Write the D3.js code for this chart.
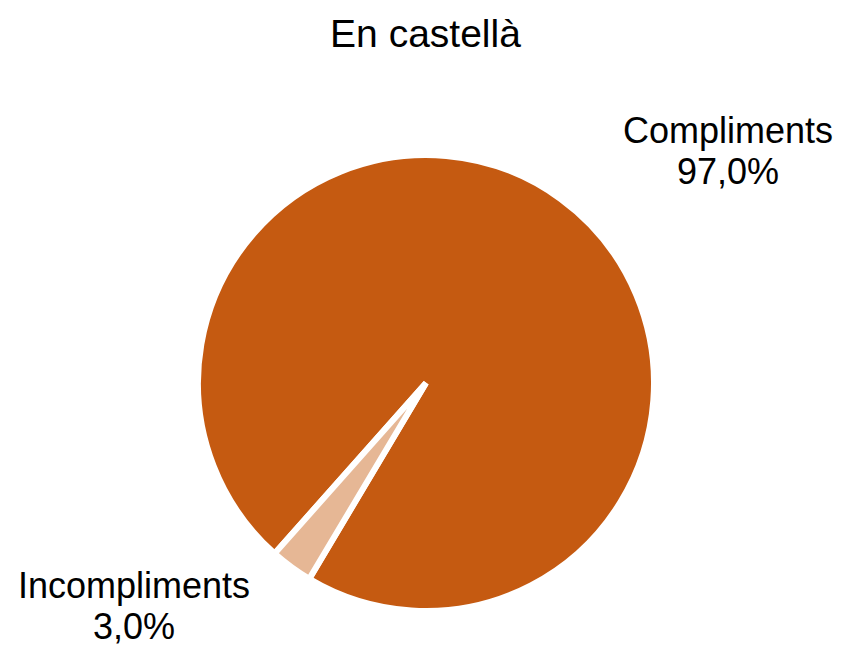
<!DOCTYPE html>
<html>
<head>
<meta charset="utf-8">
<script src="https://cdn.jsdelivr.net/npm/d3@7"></script>
<style>
  body { margin: 0; background: #fff; }
  text { font-family: "Liberation Sans", Arial, sans-serif; fill: #000; }
</style>
</head>
<body>
<div id="chart"></div>
<script>
const title = 'En castellà';
const categories = ['Compliments', 'Incompliments'];
const values = [97.0, 3.0];
const colors = ['#C55A11', '#E6B795'];

const width = 843;
const height = 647;
const cx = 426;
const cy = 383;
const radius = 228;

let svg = d3.select('#chart')
  .append('svg')
  .attr('width', width)
  .attr('height', height);

svg.append('text')
  .attr('x', 425.5)
  .attr('y', 47)
  .attr('text-anchor', 'middle')
  .style('font-size', '39px')
  .text(title);

// First slice starts so the small one lands bottom-left.
let startAngle = 221.6 * Math.PI / 180;
let pie = d3.pie()
  .sort(null)
  .startAngle(startAngle)
  .endAngle(startAngle + 2 * Math.PI);

let arc = d3.arc().innerRadius(0).outerRadius(radius);

let data = categories.map((c, i) => ({ name: c, value: values[i], color: colors[i] }));

svg.append('g')
  .attr('transform', `translate(${cx},${cy})`)
  .selectAll('path')
  .data(pie.value(d => d.value)(data))
  .enter()
  .append('path')
    .attr('d', arc)
    .attr('fill', d => d.data.color)
    .attr('stroke', '#fff')
    .attr('stroke-width', 6)
    .attr('stroke-linejoin', 'miter')
    .attr('stroke-miterlimit', 4);

// Labels outside the pie.
let labelPos = [[728, 143], [134, 598]];
let fmt = v => v.toFixed(1).replace('.', ',') + '%';

data.forEach((d, i) => {
  let t = svg.append('text')
    .attr('text-anchor', 'middle')
    .style('font-size', '36px');
  t.append('tspan')
    .attr('x', labelPos[i][0])
    .attr('y', labelPos[i][1])
    .text(d.name);
  t.append('tspan')
    .attr('x', labelPos[i][0])
    .attr('y', labelPos[i][1] + 41)
    .text(fmt(d.value));
});
</script>
</body>
</html>
